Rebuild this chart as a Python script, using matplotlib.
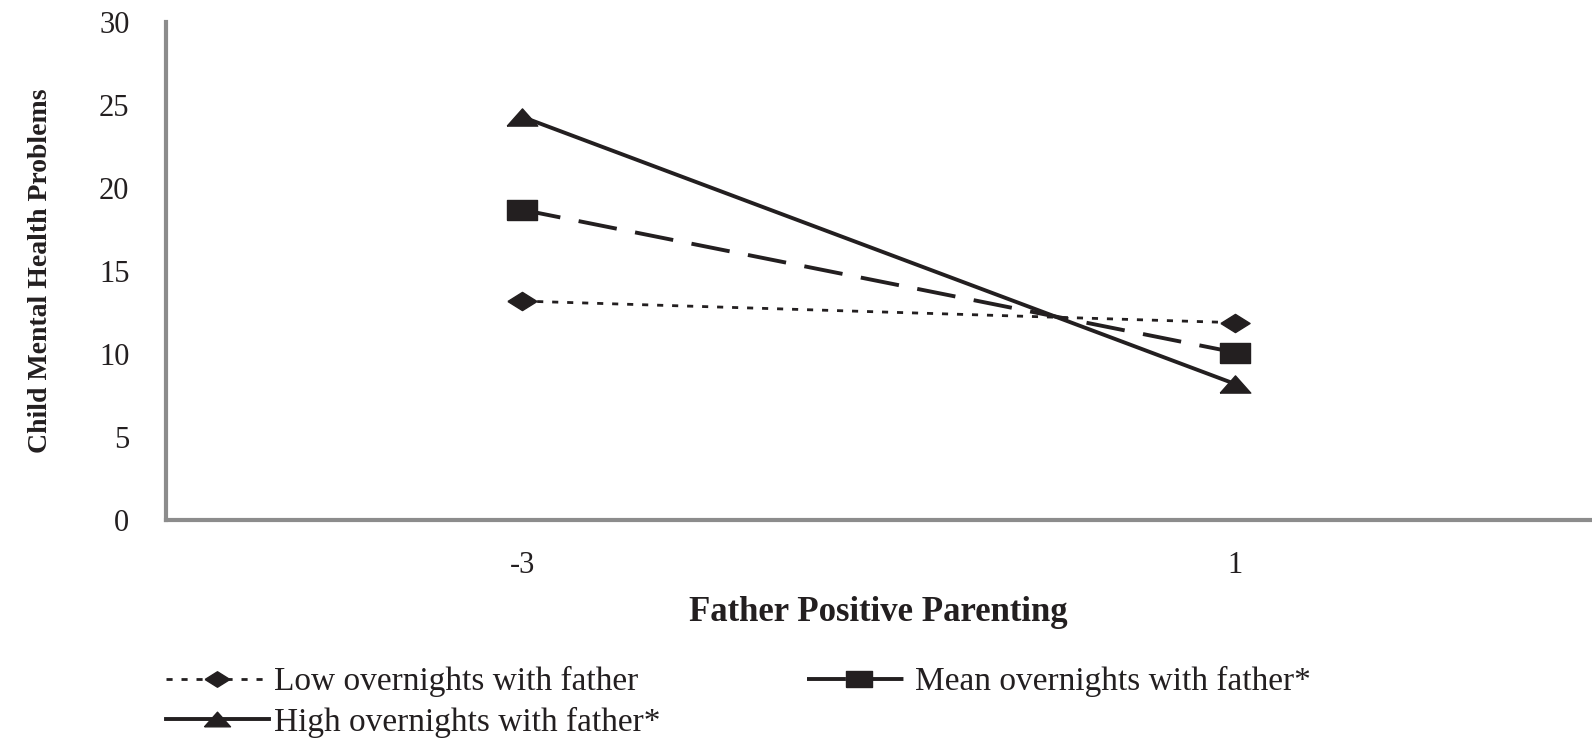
import matplotlib
matplotlib.use("Agg")
import matplotlib.pyplot as plt

# data
x_labels = ['-3', '1']
low_vals = [13.2, 11.9]
mean_vals = [18.7, 10.1]
high_vals = [24.3, 8.2]
series_names = ['Low overnights with father',
                'Mean overnights with father*',
                'High overnights with father*']
y_ticks = [0, 5, 10, 15, 20, 25, 30]

ink = '#231f20'
plt.rcParams['font.family'] = ['Liberation Serif', 'DejaVu Serif']

# wide-ish marker shapes (the original figure is stretched horizontally)
diamond = [(-1.6, 0), (0, 1), (1.6, 0), (0, -1), (-1.6, 0)]
square = [(-1.6, -1), (1.6, -1), (1.6, 1), (-1.6, 1), (-1.6, -1)]
triangle = [(-1.6, -0.9), (1.6, -0.9), (0, 0.9), (-1.6, -0.9)]

fig = plt.figure(figsize=(15.92, 7.41), dpi=100)
ax = fig.add_axes([0.104, 0.298, 0.896, 0.672])

xs = range(len(x_labels))
l1, = ax.plot(xs, low_vals, color=ink, lw=2.0, dashes=(2.2, 3.2),
              dash_capstyle='butt', marker=diamond, ms=21, mec=ink, mfc=ink)
l2, = ax.plot(xs, mean_vals, color=ink, lw=2.8, dashes=(10, 4.8),
              marker=square, ms=22, mec=ink, mfc=ink)
l3, = ax.plot(xs, high_vals, color=ink, lw=2.8, linestyle='-',
              marker=triangle, ms=22, mec=ink, mfc=ink)

ax.set_xlim(-0.5, 1.5)
ax.set_ylim(0, 30)
ax.set_yticks(y_ticks)
ax.set_xticks(list(xs))
ax.set_xticklabels(x_labels)

for s in ['top', 'right']:
    ax.spines[s].set_visible(False)
for s in ['left', 'bottom']:
    ax.spines[s].set_color('#8c8c8c')
    ax.spines[s].set_linewidth(3)

ax.tick_params(axis='y', length=0, pad=26, labelsize=22, labelcolor=ink)
ax.tick_params(axis='x', length=0, pad=22, labelsize=22, labelcolor=ink)

ax.set_ylabel('Child Mental Health Problems', fontsize=20, fontweight='bold',
              color=ink, va='center')
ax.yaxis.set_label_coords(-0.088, 0.5)
ax.set_xlabel('Father Positive Parenting', fontsize=25, fontweight='bold',
              color=ink, va='center')
ax.xaxis.set_label_coords(0.5, -0.185)

# legend laid out row by row: Low, Mean / High
handles = [l1, l3, l2]
labels = [series_names[0], series_names[2], series_names[1]]
fig.legend(handles, labels, loc='upper left', bbox_to_anchor=(0.104, 0.101),
           ncol=2, frameon=False, fontsize=24, handlelength=3.1,
           handletextpad=0.15, columnspacing=4.4, labelspacing=0.28,
           borderpad=0, borderaxespad=0, markerscale=0.85,
           labelcolor=ink)

fig.savefig('out.png', dpi=100)
